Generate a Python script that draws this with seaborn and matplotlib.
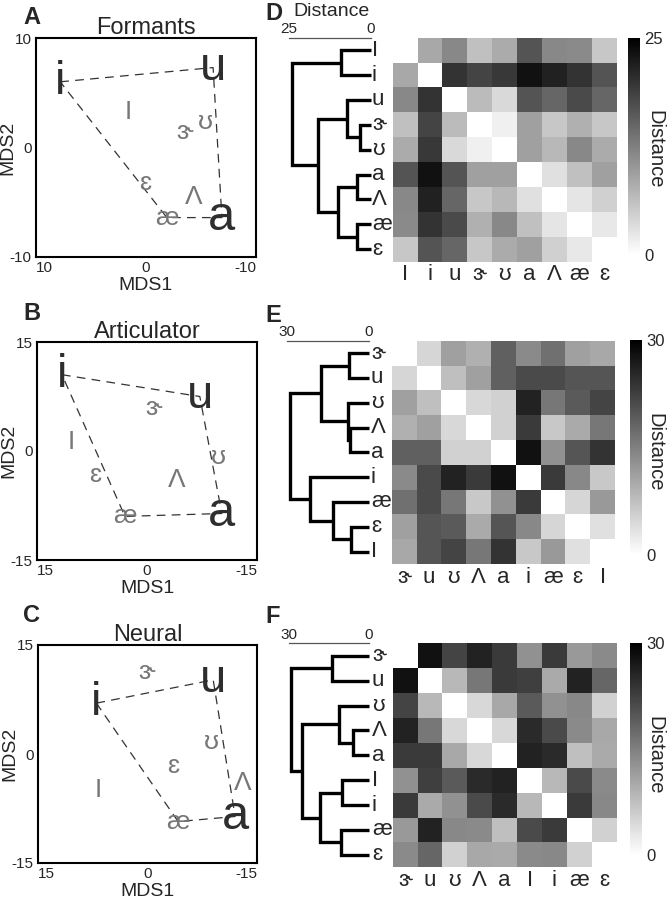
import numpy as np
import pandas as pd
import matplotlib
matplotlib.use("Agg")
import matplotlib.pyplot as plt
import seaborn as sns

sns.set_style("white")
plt.rcParams['font.family'] = ['Liberation Sans', 'DejaVu Sans']

# MDS coordinates (order: i, u, a, æ, I, ɝ, ʊ, ɛ, Λ)
mds_labels = ["i", "u", "a", "æ", "I", "ɝ", "ʊ", "ɛ", "Λ"]
formants_x = [7.8, -6.1, -6.9, -1.9, 1.6, -3.5, -5.4, 0.1, -4.3]
formants_y = [6.0, 7.3, -6.4, -6.4, 3.2, 1.4, 2.3, -3.2, -4.5]
artic_x = [11.6, -7.2, -10.2, 3.0, 10.3, -0.9, -9.7, 7.1, -4.1]
artic_y = [10.5, 7.5, -8.6, -9.0, 1.3, 5.9, -0.8, -3.3, -4.0]
neural_x = [7.0, -9.0, -12.0, -4.2, 6.7, 0.1, -8.8, -3.5, -13.1]
neural_y = [7.0, 10.2, -8.6, -9.3, -5.0, 11.3, 1.7, -1.7, -4.0]
polygon = ["i", "u", "a", "æ", "i"]

# distance matrices (upper triangles) and dendrogram links
d_order = ["I", "i", "u", "ɝ", "ʊ", "a", "Λ", "æ", "ɛ"]
d_upper = [
    [8.5, 11.7, 6.2, 8.3, 16.7, 11.7, 11.5, 5.5],
    [20.0, 18.3, 19.5, 23.3, 21.7, 20.0, 16.7],
    [6.7, 3.8, 16.7, 15.0, 17.7, 15.0],
    [1.5, 9.3, 5.5, 7.8, 5.5],
    [9.3, 7.0, 11.7, 8.3],
    [3.1, 6.2, 9.3],
    [2.6, 4.6],
    [2.3],
]
d_links = [(3, 4, 3.3), (5, 6, 4.1), (7, 8, 4.2), (2, 9, 7.3),
           (0, 1, 9.2), (10, 11, 9.9), (12, 14, 16.0), (13, 15, 24.2)]

e_order = ["ɝ", "u", "ʊ", "Λ", "a", "i", "æ", "ɛ", "I"]
e_upper = [
    [4.9, 11.2, 9.3, 18.7, 13.8, 16.8, 11.2, 10.2],
    [7.5, 11.2, 18.7, 21.3, 21.3, 20.0, 20.0],
    [4.6, 5.5, 26.0, 16.0, 19.4, 22.0],
    [5.5, 23.2, 6.5, 10.0, 16.0],
    [28.0, 13.0, 20.0, 24.0],
    [23.2, 14.0, 6.5],
    [4.9, 12.0],
    [3.7],
]
e_links = [(7, 8, 6.6), (3, 4, 6.8), (0, 1, 7.4), (2, 10, 7.8),
           (6, 9, 13.2), (11, 12, 17.4), (5, 13, 21.6), (14, 15, 28.8)]

f_order = ["ɝ", "u", "ʊ", "Λ", "a", "I", "i", "æ", "ɛ"]
f_upper = [
    [28.0, 22.0, 26.0, 23.2, 13.0, 23.2, 12.0, 13.8],
    [8.4, 16.0, 23.2, 22.5, 10.0, 26.0, 18.0],
    [4.6, 10.2, 19.4, 13.0, 14.0, 5.5],
    [4.6, 25.0, 21.3, 13.8, 10.2],
    [26.0, 25.0, 7.5, 10.0],
    [8.4, 21.3, 13.8],
    [23.2, 14.0],
    [5.5],
]
f_links = [(3, 4, 6.2), (5, 6, 10.2), (7, 8, 10.5), (2, 9, 11.2),
           (0, 1, 13.9), (10, 11, 18.6), (12, 14, 25.4), (13, 15, 29.5)]

W, H = 670, 900


def box(l, t, r, b):
    return [l / W, 1 - b / H, (r - l) / W, (b - t) / H]


def to_square(upper):
    n = len(upper) + 1
    m = np.zeros((n, n))
    for i, row in enumerate(upper):
        for k, v in enumerate(row):
            m[i, i + 1 + k] = v
            m[i + 1 + k, i] = v
    return m


fig = plt.figure(figsize=(6.7, 9), dpi=100)

dark = {"i": 34, "u": 34, "a": 35}


def mds_panel(rect, xs, ys, lim, title, letter, letter_y):
    ax = fig.add_axes(box(*rect))
    pts = dict(zip(mds_labels, zip(xs, ys)))
    px = [pts[k][0] for k in polygon]
    py = [pts[k][1] for k in polygon]
    ax.plot(px, py, color="#333333", lw=0.9, ls=(0, (7, 5)), zorder=1)
    for lab, x, y in zip(mds_labels, xs, ys):
        if lab in dark:
            ax.text(x, y, lab, fontsize=dark[lab], color="#2e2e2e",
                    ha="center", va="center", zorder=2)
        else:
            ax.text(x, y, lab, fontsize=19, color="#777777",
                    ha="center", va="center", zorder=2)
    ax.set_xlim(lim, -lim)
    ax.set_ylim(-lim, lim)
    ax.set_xticks([lim, 0, -lim])
    ax.set_yticks([lim, 0, -lim])
    ax.set_xticklabels([str(lim), "0", str(-lim)])
    ax.set_yticklabels([str(lim), "0", str(-lim)])
    xt = ax.get_xticklabels()
    xt[0].set_ha("left")
    xt[-1].set_ha("right")
    ax.tick_params(length=0, labelsize=11, pad=3)
    for s in ax.spines.values():
        s.set_linewidth(1.5)
        s.set_color("black")
    ax.set_xlabel("MDS1", fontsize=14, labelpad=1)
    ax.set_ylabel("MDS2", fontsize=14)
    ax.yaxis.set_label_coords(-0.088, 0.5)
    ax.set_title(title, fontsize=17, pad=3)
    fig.text(23 / W, 1 - letter_y / H, letter, fontsize=17,
             fontweight="bold", ha="left", va="top")


mds_panel((36, 38, 256, 257), formants_x, formants_y, 10, "Formants", "A", 6)
mds_panel((37, 342, 257, 560), artic_x, artic_y, 15, "Articulator", "B", 302)
mds_panel((38, 645, 257, 863), neural_x, neural_y, 15, "Neural", "C", 604)


def draw_dendro(ax, links, n):
    pos = {k: k + 0.5 for k in range(n)}
    hgt = {k: 0.0 for k in range(n)}
    for j, (a, b, h) in enumerate(links):
        ax.plot([hgt[a], h, h, hgt[b]], [pos[a], pos[a], pos[b], pos[b]],
                color="black", lw=2.4, solid_joinstyle="miter",
                solid_capstyle="butt", clip_on=False)
        pos[n + j] = (pos[a] + pos[b]) / 2
        hgt[n + j] = h


def heat_panel(upper, labels, links, vmax, hrect, crect, drect, letter, letter_y):
    mat = to_square(upper)
    ax = fig.add_axes(box(*hrect))
    cax = fig.add_axes(box(*crect))
    df = pd.DataFrame(mat, index=labels, columns=labels)
    sns.heatmap(df, ax=ax, cmap="gray_r", vmin=0, vmax=vmax, cbar_ax=cax,
                xticklabels=True, yticklabels=True)
    ax.tick_params(axis="both", length=0, labelsize=16)
    ax.tick_params(axis="x", pad=2)
    ax.tick_params(axis="y", pad=15)
    for t in ax.get_yticklabels():
        t.set_rotation(0)
        t.set_ha("left")
    for t in ax.get_xticklabels():
        t.set_rotation(0)
    cb = ax.collections[0].colorbar
    cb.set_ticks([0, vmax])
    cb.ax.tick_params(length=0, labelsize=12, pad=3)
    cb.outline.set_visible(False)
    yc = (hrect[1] + hrect[3]) / 2
    fig.text(655 / W, 1 - yc / H, "Distance", rotation=270, fontsize=14.5,
             ha="center", va="center")

    dax = fig.add_axes(box(*drect))
    draw_dendro(dax, links, len(labels))
    dax.set_xlim(vmax, 0)
    dax.set_ylim(len(labels), 0)
    dax.set_yticks([])
    for k in ["left", "right", "bottom"]:
        dax.spines[k].set_visible(False)
    dax.spines["top"].set_color("#555555")
    dax.spines["top"].set_linewidth(0.9)
    dax.xaxis.tick_top()
    dax.set_xticks([vmax, 0])
    dax.set_xticklabels([str(vmax), "0"])
    dax.tick_params(axis="x", length=0, labelsize=11, pad=1)
    dax.patch.set_alpha(0)
    fig.text(265 / W, 1 - letter_y / H, letter, fontsize=17,
             fontweight="bold", ha="left", va="top")


heat_panel(d_upper, d_order, d_links, 25, (392.7, 37.7, 616.7, 261.7),
           (628, 38, 640, 255), (289, 37.7, 370.7, 261.7), "D", 2)
heat_panel(e_upper, e_order, e_links, 30, (391.7, 340.7, 615, 564),
           (630, 340, 642, 555), (286.7, 340.7, 369, 564), "E", 304)
heat_panel(f_upper, f_order, f_links, 30, (392.7, 643.3, 616.7, 867.3),
           (630, 643, 642, 855), (289.3, 643.3, 369, 867.3), "F", 605)

# dendrogram distance label of panel D
fig.text(293 / W, 1 - 16 / H, "Distance", fontsize=14, ha="left", va="baseline")

fig.savefig("out.png", dpi=100)
